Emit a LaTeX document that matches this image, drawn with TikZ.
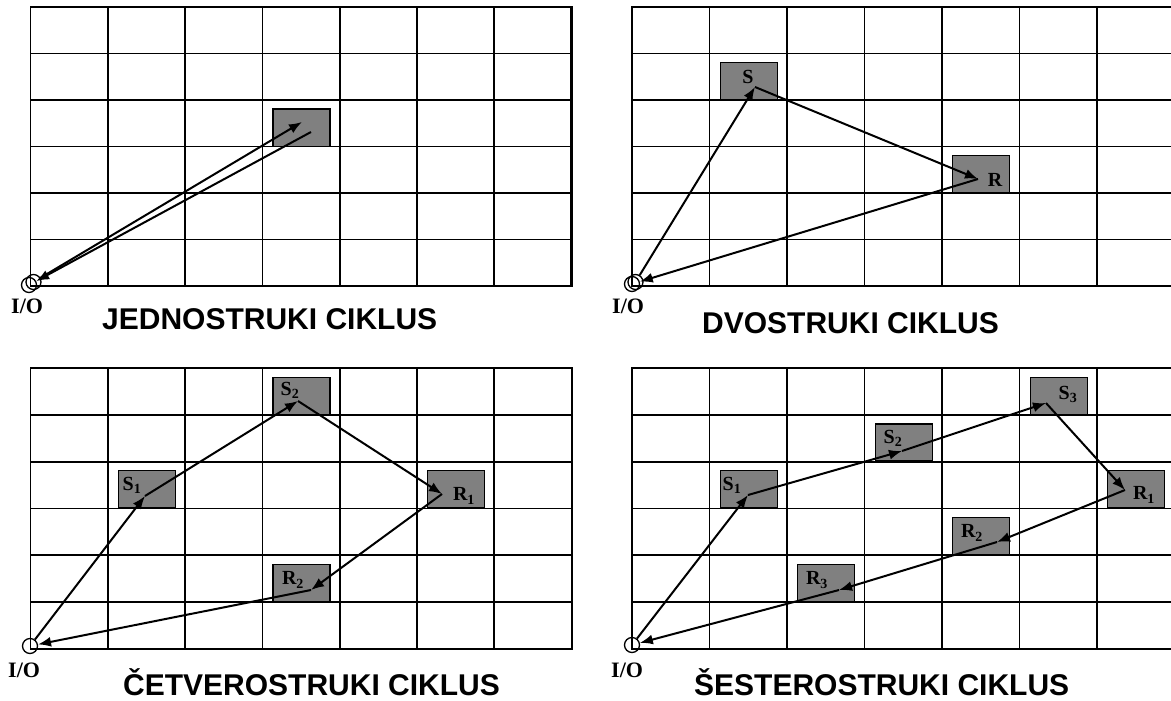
\documentclass[tikz,border=0pt]{standalone}
\usepackage{fontspec}
\setmainfont{Liberation Serif}
\newfontfamily\titlefont{Liberation Sans}
\usetikzlibrary{arrows.meta}

\tikzset{
  gridline/.style={line width=1.8pt, line cap=rect, black},
  stbox/.style={draw=black, line width=1.3pt, fill={rgb,255:red,128;green,128;blue,128}, minimum width=57pt, minimum height=37pt, inner sep=0pt, anchor=north west},
  lbl/.style={font=\fontsize{20}{20}\selectfont\bfseries, inner sep=0pt},
  iolbl/.style={font=\fontsize{22}{22}\selectfont\bfseries, inner sep=0pt, anchor=base west},
  ttl/.style={font=\titlefont\fontsize{30}{30}\selectfont\bfseries, inner sep=0pt, anchor=base west},
  iocirc/.style={circle, draw=black, line width=1.3pt, minimum size=15pt, inner sep=0pt},
  arr/.style={line width=2pt, -{Latex[length=13pt,width=10pt]}},
}

\newcommand{\drawpanelgrid}[4]{%
  \foreach \gi in {0,...,7}{\draw[gridline] ({#1+\gi*#3},#2) -- ({#1+\gi*#3},{#2+6*#4});}
  \foreach \gj in {0,...,6}{\draw[gridline] (#1,{#2+\gj*#4}) -- ({#1+7*#3},{#2+\gj*#4});}
}

\begin{document}
\begin{tikzpicture}[x=1pt,y=-1pt]
\useasboundingbox (0,0) rectangle (1171,701);
\fill[white] (0,0) rectangle (1171,701);

% ---------- grids ----------
\drawpanelgrid{30.5}{7}{77.3}{46.5}
\draw[line width=3pt] (571.6,7) -- (571.6,286);
\drawpanelgrid{632}{7}{77.5}{46.5}
\drawpanelgrid{30.5}{368}{77.3}{46.8}
\drawpanelgrid{632}{368}{77.5}{46.8}

% ---------- panel 1: JEDNOSTRUKI ----------
\node[stbox] (p1box) at (272.4,108.5) {};
\coordinate (t1a) at (302,122);
\coordinate (t1b) at (311,132);
\node[iocirc] (io1a) at (29,285) {};
\node[iocirc] (io1b) at (33.5,282) {};
\draw[arr] (io1b) -- (t1a);
\draw[arr] (t1b) -- (io1a);
\node[iolbl] (iol1) at (11,313) {I/O};
\node[ttl] (ttl1) at (102,329) {JEDNOSTRUKI CIKLUS};

% ---------- panel 2: DVOSTRUKI ----------
\node[stbox] (p2s) at (719.5,62) {};
\node[stbox] (p2r) at (952,155) {};
\node[lbl] (p2sl) at (748,77) {S};
\node[lbl] (p2rl) at (995,180) {R};
\coordinate (p2sp) at (755,87);
\coordinate (p2rp) at (978,179);
\node[iocirc] (io2a) at (632,284) {};
\node[iocirc] (io2b) at (635.5,282) {};
\draw[arr] (io2b) -- (p2sp);
\draw[arr] (p2sp) -- (p2rp);
\draw[arr] (p2rp) -- (io2a);
\node[iolbl] (iol2) at (612,313) {I/O};
\node[ttl] (ttl2) at (702,333) {DVOSTRUKI CIKLUS};

% ---------- panel 3: CETVEROSTRUKI ----------
\node[stbox] (p3s1) at (117.8,470.1) {};
\node[stbox] (p3s2) at (272.4,376.5) {};
\node[stbox] (p3r1) at (427,470.1) {};
\node[stbox] (p3r2) at (272.4,563.7) {};
\node[lbl] (p3s1l) at (132,485) {S\textsubscript{1}};
\node[lbl] (p3s2l) at (290,390) {S\textsubscript{2}};
\node[lbl] (p3r1l) at (464,496) {R\textsubscript{1}};
\node[lbl] (p3r2l) at (293,580) {R\textsubscript{2}};
\coordinate (p3a) at (145,496);
\coordinate (p3b) at (298,401);
\coordinate (p3c) at (442,494);
\coordinate (p3d) at (311,590);
\node[iocirc] (io3) at (30,646) {};
\draw[arr] (io3) -- (p3a);
\draw[arr] (p3a) -- (p3b);
\draw[arr] (p3b) -- (p3c);
\draw[arr] (p3c) -- (p3d);
\draw[arr] (p3d) -- (io3);
\node[iolbl] (iol3) at (8,677) {I/O};
\node[ttl] (ttl3) at (123,695) {ČETVEROSTRUKI CIKLUS};

% ---------- panel 4: SESTEROSTRUKI ----------
\node[stbox] (p4s1) at (719.5,470.1) {};
\node[stbox] (p4s2) at (874.5,423.3) {};
\node[stbox] (p4s3) at (1029.5,376.5) {};
\node[stbox] (p4r1) at (1107,470.1) {};
\node[stbox] (p4r2) at (952,516.9) {};
\node[stbox] (p4r3) at (797,563.7) {};
\node[lbl] (p4s1l) at (732,485) {S\textsubscript{1}};
\node[lbl] (p4s2l) at (893,438) {S\textsubscript{2}};
\node[lbl] (p4s3l) at (1068,394) {S\textsubscript{3}};
\node[lbl] (p4r1l) at (1144,495) {R\textsubscript{1}};
\node[lbl] (p4r2l) at (972,533) {R\textsubscript{2}};
\node[lbl] (p4r3l) at (817,580) {R\textsubscript{3}};
\coordinate (p4a) at (748,495);
\coordinate (p4b) at (902,451);
\coordinate (p4c) at (1046,403);
\coordinate (p4d) at (1125,490);
\coordinate (p4e) at (997,542);
\coordinate (p4f) at (839,590);
\node[iocirc] (io4) at (632,645) {};
\draw[arr] (io4) -- (p4a);
\draw[arr] (p4a) -- (p4b);
\draw[arr] (p4b) -- (p4c);
\draw[arr] (p4c) -- (p4d);
\draw[arr] (p4d) -- (p4e);
\draw[arr] (p4e) -- (p4f);
\draw[arr] (p4f) -- (io4);
\node[iolbl] (iol4) at (611,677) {I/O};
\node[ttl] (ttl4) at (694,695) {ŠESTEROSTRUKI CIKLUS};
\end{tikzpicture}
\end{document}
